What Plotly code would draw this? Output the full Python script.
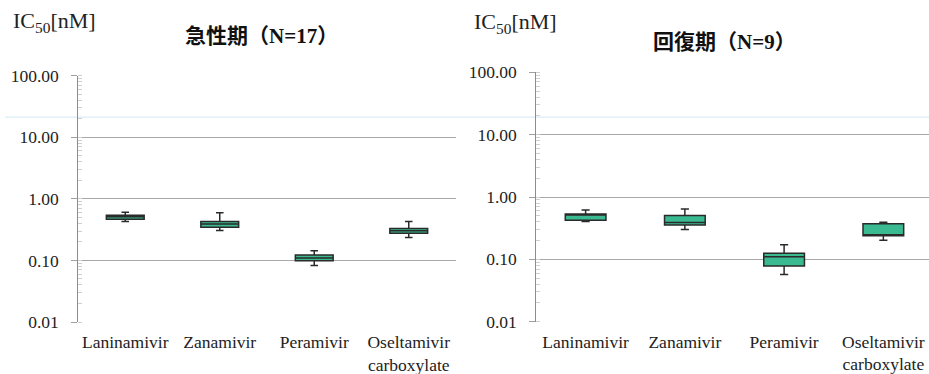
import plotly.graph_objects as go

categories = ["Laninamivir", "Zanamivir", "Peramivir", "Oseltamivir<br>carboxylate"]

# 急性期 (N=17)
acute_low = [0.43, 0.307, 0.083, 0.236]
acute_q1 = [0.468, 0.347, 0.099, 0.277]
acute_med = [0.51, 0.389, 0.11, 0.303]
acute_q3 = [0.544, 0.43, 0.122, 0.331]
acute_high = [0.608, 0.593, 0.143, 0.43]

# 回復期 (N=9)
recov_low = [0.404, 0.30, 0.057, 0.203]
recov_q1 = [0.424, 0.357, 0.078, 0.240]
recov_med = [0.516, 0.389, 0.110, 0.242]
recov_q3 = [0.536, 0.503, 0.125, 0.371]
recov_high = [0.62, 0.644, 0.171, 0.394]

titles = ["<b>急性期（N=17）</b>", "<b>回復期（N=9）</b>"]
ylabel = "IC<sub>50</sub>[nM]"

W, H = 929, 374
FILL = "#3ABA91"
EDGE = "#2a2a2a"
SERIF = "Liberation Serif, Times New Roman, serif"
TITLEFONT = "Liberation Serif, Noto Sans CJK JP, serif"

def px_x(p):
    return p / W

def px_y(p):
    return 1 - p / H

# panel geometry (pixels)
L_x0, L_x1, L_top, L_bot = 78, 456, 75.7, 322
R_x0, R_x1, R_top, R_bot = 536, 929, 72.3, 321.7

fig = go.Figure()

fig.add_trace(go.Box(
    x=categories, q1=acute_q1, median=acute_med, q3=acute_q3,
    lowerfence=acute_low, upperfence=acute_high,
    fillcolor=FILL, line=dict(color=EDGE, width=1.5), width=0.4,
    whiskerwidth=0.2, boxpoints=False, xaxis="x", yaxis="y", showlegend=False,
))
fig.add_trace(go.Box(
    x=categories, q1=recov_q1, median=recov_med, q3=recov_q3,
    lowerfence=recov_low, upperfence=recov_high,
    fillcolor=FILL, line=dict(color=EDGE, width=1.5), width=0.41,
    whiskerwidth=0.2, boxpoints=False, xaxis="x2", yaxis="y2", showlegend=False,
))

def yaxis_cfg(top, bot, anchor):
    return dict(
        type="log", range=[-2, 2], domain=[px_y(bot), px_y(top)], anchor=anchor,
        dtick=1, tick0=0, tickformat=".2f", ticksuffix="\u00a0\u00a0", automargin=False,
        showgrid=True, gridcolor="#a8a8a8", gridwidth=1,
        showline=True, linecolor="#8c8c8c", linewidth=1,
        ticks="outside", ticklen=6, tickcolor="#a0a0a0",
        minor=dict(dtick="D1", ticks="inside", ticklen=4, tickcolor="#cfcfcf", showgrid=False),
        tickfont=dict(family=SERIF, size=17.5, color="#222"),
        zeroline=False,
    )

def xaxis_cfg(x0, x1, anchor, rng):
    return dict(
        domain=[px_x(x0), px_x(x1)], anchor=anchor, type="category",
        categoryarray=categories, range=rng, automargin=False,
        showgrid=False, showline=False,
        ticks="outside", ticklen=4, tickcolor="rgba(0,0,0,0)",
        tickfont=dict(family=SERIF, size=17.5, color="#222"),
    )

def mid_axis(x0, x1, top, bot, over, rng):
    return dict(
        overlaying=over, anchor="free", position=(px_y(bot) + px_y(top)) / 2,
        domain=[px_x(x0), px_x(x1)], automargin=False,
        type="linear", range=rng, tickmode="linear", tick0=0.5, dtick=1,
        showline=True, linecolor="#808080", linewidth=1.2,
        ticks="outside", ticklen=4, tickcolor="#b0b0b0",
        showticklabels=False, showgrid=False, zeroline=False,
    )

fig.update_layout(
    width=W, height=H, margin=dict(l=0, r=0, t=0, b=0, autoexpand=False),
    paper_bgcolor="white", plot_bgcolor="white",
    xaxis=xaxis_cfg(L_x0, L_x1, "y", [-0.5, 3.5]),
    yaxis=yaxis_cfg(L_top, L_bot, "x"),
    xaxis2=xaxis_cfg(R_x0, R_x1, "y2", [-0.5, 3.46]),
    yaxis2=yaxis_cfg(R_top, R_bot, "x2"),
    xaxis3=mid_axis(L_x0, L_x1, L_top, L_bot, "x", [-0.5, 3.5]),
    xaxis4=mid_axis(R_x0, R_x1, R_top, R_bot, "x2", [-0.5, 3.46]),
)

annotations = [
    dict(text=titles[0], x=px_x(261), y=px_y(36), xref="paper", yref="paper",
         showarrow=False, xanchor="center", yanchor="middle",
         font=dict(family=TITLEFONT, size=21, color="#111")),
    dict(text=titles[1], x=px_x(724), y=px_y(42), xref="paper", yref="paper",
         showarrow=False, xanchor="center", yanchor="middle",
         font=dict(family=TITLEFONT, size=21, color="#111")),
    dict(text=ylabel, x=px_x(11), y=px_y(22), xref="paper", yref="paper",
         showarrow=False, xanchor="left", yanchor="middle",
         font=dict(family=SERIF, size=22, color="#222")),
    dict(text=ylabel, x=px_x(472), y=px_y(23), xref="paper", yref="paper",
         showarrow=False, xanchor="left", yanchor="middle",
         font=dict(family=SERIF, size=22, color="#222")),
]
fig.update_layout(annotations=annotations)

fig.add_shape(type="line", xref="paper", yref="paper",
              x0=px_x(5), x1=1, y0=px_y(117.3), y1=px_y(117.3),
              line=dict(color="#e2f0f8", width=1.5), layer="below")

fig.write_html(
    "out.html",
    config={"displayModeBar": False},
    post_script="document.body.style.margin='0';document.body.style.overflow='hidden';",
)
